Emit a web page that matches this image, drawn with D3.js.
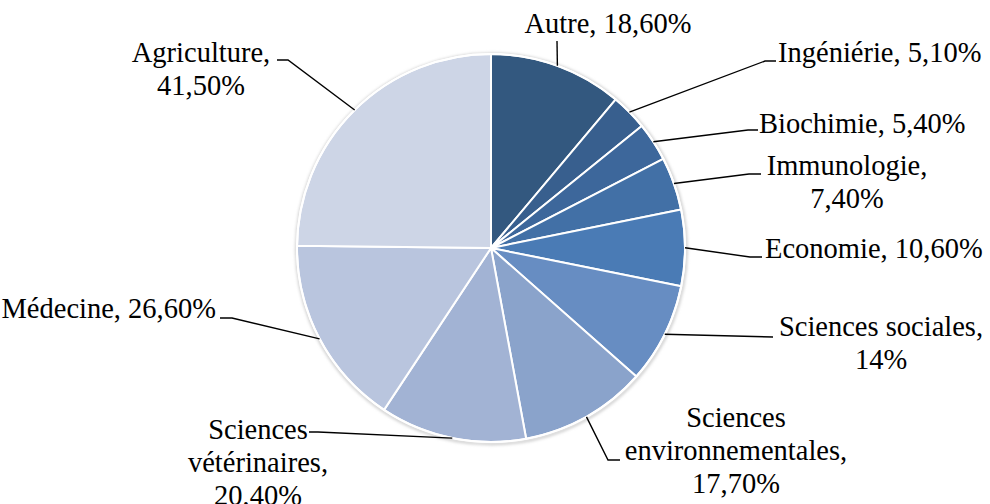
<!DOCTYPE html>
<html>
<head>
<meta charset="utf-8">
<script src="https://cdn.jsdelivr.net/npm/d3@7"></script>
<style>
  html, body { margin: 0; padding: 0; background: #ffffff; }
  svg { display: block; }
  text { font-family: "Liberation Serif", "Times New Roman", serif; fill: #000; }
</style>
</head>
<body>
<svg id="chart" width="990" height="504"></svg>
<script>
// ---- data ----
const categories = ["Autre", "Ingéniérie", "Biochimie", "Immunologie", "Economie",
  "Sciences sociales", "Sciences environnementales", "Sciences vétérinaires", "Médecine", "Agriculture"];
const values = [18.6, 5.1, 5.4, 7.4, 10.6, 14, 17.7, 20.4, 26.6, 41.5];
const valueLabels = ["18,60%", "5,10%", "5,40%", "7,40%", "10,60%", "14%", "17,70%", "20,40%", "26,60%", "41,50%"];
const colors = ["#33587f", "#385f8e", "#3d679b", "#4270a6", "#4a7bb5",
  "#678dc2", "#8aa3cb", "#a2b3d4", "#b9c5de", "#cdd5e6"];

// ---- layout (label placement) ----
// wrap: 0 = one line, 1 = break after category, 2 = break after first word and after category
const labelLayout = [
  { x: 608, y: 33,  anchor: "middle", wrap: 0, leader: [[557, 41]] },
  { x: 778, y: 62,  anchor: "start",  wrap: 0, leader: [[765, 61], [776, 61]] },
  { x: 759, y: 133, anchor: "start",  wrap: 0, leader: [[748, 130], [758, 130]] },
  { x: 847, y: 175, anchor: "middle", wrap: 1, leader: [[749, 174], [761, 174]] },
  { x: 765, y: 258, anchor: "start",  wrap: 0, leader: [[750, 257], [762, 257]] },
  { x: 881, y: 336, anchor: "middle", wrap: 1, leader: [[773, 337]] },
  { x: 736, y: 427, anchor: "middle", wrap: 2, leader: [[608, 460], [620, 460]] },
  { x: 258, y: 439, anchor: "middle", wrap: 2, leader: [[318, 432], [309, 432]] },
  { x: 216, y: 318, anchor: "end",    wrap: 0, leader: [[232, 318], [220, 318]] },
  { x: 201, y: 62,  anchor: "middle", wrap: 1, leader: [[288, 60], [277, 60]] }
];

const W = 990, H = 504;
const cx = 491, cy = 248, R = 194;
const fontSize = 28.5, lineH = 33;

const svg = d3.select("#chart");
const g = svg.append("g").attr("transform", `translate(${cx},${cy})`);

const pie = d3.pie().sort(null).value(d => d.value).startAngle(0).endAngle(2 * Math.PI);
const data = categories.map((c, i) => ({ cat: c, value: values[i], label: valueLabels[i], color: colors[i], lay: labelLayout[i] }));
const arcs = pie(data);

const arc = d3.arc().innerRadius(0).outerRadius(R);
const edgeArc = d3.arc().innerRadius(R).outerRadius(R);

// soft shadow ring
const defs = svg.append("defs");
const f = defs.append("filter").attr("id", "sh").attr("x", "-10%").attr("y", "-10%").attr("width", "120%").attr("height", "120%");
f.append("feGaussianBlur").attr("stdDeviation", 1.5);
g.append("circle").attr("r", R + 1).attr("cx", 0.5).attr("cy", 1)
  .attr("fill", "none").attr("stroke", "#c8c8c8").attr("stroke-width", 2.5).attr("filter", "url(#sh)");

g.selectAll("path.slice").data(arcs).join("path")
  .attr("class", "slice")
  .attr("d", arc)
  .attr("fill", d => d.data.color)
  .attr("stroke", "#ffffff")
  .attr("stroke-width", 2)
  .attr("stroke-linejoin", "round");

// outer white rim
g.append("circle").attr("r", R).attr("fill", "none").attr("stroke", "#ffffff").attr("stroke-width", 2);

// leader lines
const lineGen = d3.line();
svg.append("g").selectAll("path.leader").data(arcs).join("path")
  .attr("class", "leader")
  .attr("d", d => {
    const p = edgeArc.centroid(d);
    const pts = [[cx + p[0], cy + p[1]]].concat(d.data.lay.leader);
    return lineGen(pts);
  })
  .attr("fill", "none")
  .attr("stroke", "#000")
  .attr("stroke-width", 1.4);

// labels
function linesFor(d) {
  const w = d.data.lay.wrap;
  if (w === 0) return [d.data.cat + ", " + d.data.label];
  if (w === 1) return [d.data.cat + ",", d.data.label];
  const parts = d.data.cat.split(" ");
  return [parts[0], parts.slice(1).join(" ") + ",", d.data.label];
}
const labels = svg.append("g").selectAll("text.lbl").data(arcs).join("text")
  .attr("class", "lbl")
  .attr("x", d => d.data.lay.x)
  .attr("y", d => d.data.lay.y)
  .attr("text-anchor", d => d.data.lay.anchor)
  .style("font-size", fontSize + "px");
labels.each(function (d) {
  const t = d3.select(this);
  linesFor(d).forEach((ln, k) => {
    t.append("tspan").attr("x", d.data.lay.x).attr("dy", k === 0 ? 0 : lineH).text(ln);
  });
});
</script>
</body>
</html>
